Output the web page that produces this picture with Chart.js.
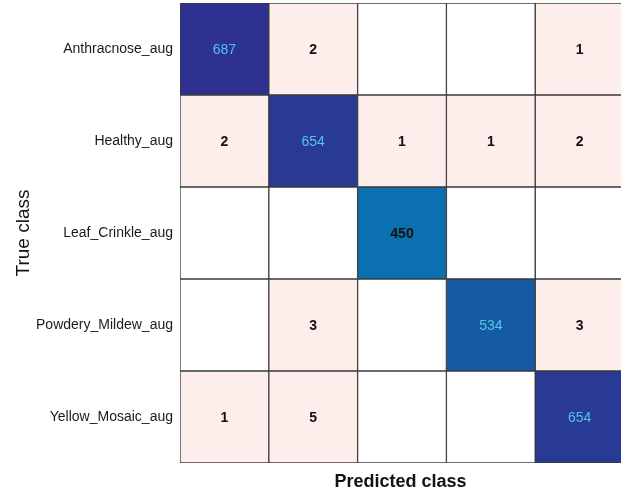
<!DOCTYPE html>
<html>
<head>
<meta charset="utf-8">
<script src="https://cdn.jsdelivr.net/npm/chart.js@4/dist/chart.umd.min.js"></script>
<style>
  html, body { margin: 0; padding: 0; background: #fff; }
  #wrap { width: 621px; height: 493px; }
</style>
</head>
<body>
<div id="wrap"><canvas id="cm"></canvas></div>
<script>
// classes (same for true rows and predicted columns)
const classes = ["Anthracnose_aug", "Healthy_aug", "Leaf_Crinkle_aug", "Powdery_Mildew_aug", "Yellow_Mosaic_aug"];

// confusion matrix, one array per true class (row), values per predicted class
const anthracnose   = [687, 2, 0, 0, 1];
const healthy       = [2, 654, 1, 1, 2];
const leafCrinkle   = [0, 0, 450, 0, 0];
const powderyMildew = [0, 3, 0, 534, 3];
const yellowMosaic  = [1, 5, 0, 0, 654];

const rows = [anthracnose, healthy, leafCrinkle, powderyMildew, yellowMosaic];

function cellColor(v, i, j) {
  if (v === 0) return "#ffffff";
  if (i !== j) return "#fdeeec";
  // blue -> navy depending on count
  const t = Math.max(0, Math.min(1, (v - 450) / (687 - 450)));
  const a = [11, 112, 175], b = [46, 49, 144];
  const c = a.map((x, k) => Math.round(x + (b[k] - x) * t));
  return "rgb(" + c.join(",") + ")";
}

// one dataset per predicted column, floating horizontal bar spanning the column
const datasets = classes.map((name, j) => ({
  label: name,
  data: rows.map(() => [j - 0.5, j + 0.5]),
  counts: rows.map(r => r[j]),
  backgroundColor: rows.map((r, i) => cellColor(r[j], i, j)),
  borderColor: "#3a3a3a",
  borderWidth: 1,
  borderSkipped: false
}));

const cellText = {
  id: "cellText",
  afterDatasetsDraw(chart) {
    const ctx = chart.ctx;
    ctx.save();
    ctx.textAlign = "center";
    ctx.textBaseline = "middle";
    chart.data.datasets.forEach((ds, j) => {
      chart.getDatasetMeta(j).data.forEach((bar, i) => {
        const v = ds.counts[i];
        if (!v) return;
        const p = bar.getCenterPoint();
        if (i === j && v > 500) {
          ctx.fillStyle = "#52c4ea";
          ctx.font = "14px 'Liberation Sans', Arial, sans-serif";
        } else {
          ctx.fillStyle = "#111";
          ctx.font = "bold 14px 'Liberation Sans', Arial, sans-serif";
        }
        ctx.fillText(String(v), p.x, p.y + 1);
      });
    });
    ctx.restore();
  }
};

new Chart(document.getElementById("cm"), {
  type: "bar",
  data: { labels: classes, datasets: datasets },
  options: {
    indexAxis: "y",
    responsive: true,
    maintainAspectRatio: false,
    animation: false,
    layout: { padding: { top: 3, right: 0, left: 0, bottom: 0 } },
    datasets: { bar: { grouped: false, categoryPercentage: 1, barPercentage: 1 } },
    plugins: { legend: { display: false }, tooltip: { enabled: false } },
    scales: {
      x: {
        type: "linear",
        min: -0.5,
        max: 4.466, // last column runs slightly past the right edge, as in the source
        grid: { display: false },
        border: { display: false },
        ticks: { display: false },
        title: {
          display: true,
          text: "Predicted class",
          color: "#111",
          font: { family: "'Liberation Sans', Arial, sans-serif", size: 18, weight: "bold" },
          padding: { top: 8, bottom: 0 }
        },
        afterFit(scale) {
          scale.height = 30;
          scale.paddingLeft = 0;
          scale.paddingRight = 0;
        }
      },
      y: {
        grid: { display: false, drawTicks: false },
        border: { display: false },
        ticks: {
          color: "#1a1a1a",
          padding: 7,
          font: { family: "'Liberation Sans', Arial, sans-serif", size: 14 }
        },
        title: {
          display: true,
          text: "True class",
          color: "#111",
          font: { family: "'Liberation Sans', Arial, sans-serif", size: 19 },
          padding: { top: 12, bottom: 0 }
        },
        afterFit(scale) {
          scale.width = 180;
          scale.paddingTop = 0;
          scale.paddingBottom = 0;
        }
      }
    }
  },
  plugins: [cellText]
});
</script>
</body>
</html>
